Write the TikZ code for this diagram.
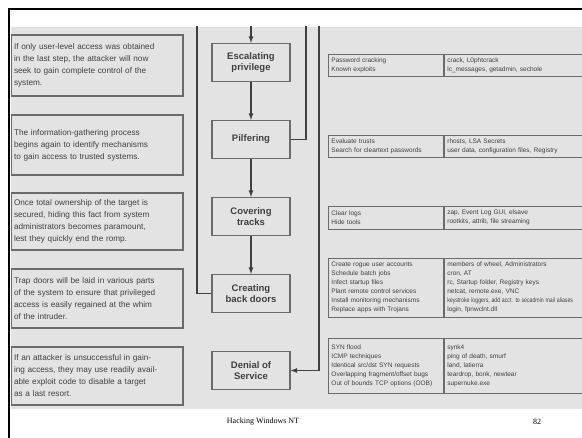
\documentclass[tikz,border=0pt]{standalone}
\usepackage{fontspec}
\setmainfont{Liberation Serif}
\newfontfamily\photofont{Liberation Sans}
\definecolor{photo-gray}{rgb}{0.89, 0.89, 0.89}
\definecolor{ink-gray}{rgb}{0.25, 0.25, 0.25}
\definecolor{frame-gray}{rgb}{0.42, 0.42, 0.42}

\begin{document}
\begin{tikzpicture}[x=1pt, y=-1pt, node distance=77pt, >=latex,
		stagebox/.style={draw=frame-gray, line width=1.2pt, fill=photo-gray, text=ink-gray, font=\photofont\bfseries\fontsize{9.5}{11}\selectfont, align=center, minimum width=78pt, minimum height=38pt},
		notebox/.style={draw=frame-gray, line width=1.2pt, text=ink-gray, font=\photofont\fontsize{8.2}{12}\selectfont, align=left, text width=166pt, inner xsep=3pt, minimum height=58pt},
		cellbox/.style={draw=frame-gray, line width=0.9pt, text=ink-gray, font=\photofont\fontsize{6.5}{9}\selectfont, align=left, anchor=west, inner xsep=3pt, inner ysep=1pt},
		flow/.style={draw=ink-gray, line width=1.2pt}]
		\useasboundingbox (0,0) rectangle (582,438);
		
		% Draw the slide frame
		\draw[line width=2pt] (9,438) -- (9,9) -- (582,9);
		
		\begin{scope}
		\clip (11,27) rectangle (582,409);
		\fill[photo-gray] (11,27) rectangle (582,409);
		
		% Draw the attack stages
		\node (esc) [stagebox] at (251,62.5) {Escalating\\privilege};
		\node (pil) [stagebox, below of=esc] {Pilfering};
		\node (cov) [stagebox, below of=pil] {Covering\\tracks};
		\node (cre) [stagebox, below of=cov] {Creating\\back doors};
		\node (den) [stagebox, below of=cre] {Denial of\\Service};
		
		% Draw the descriptions on the left
		\node (escnote) [notebox, minimum height=61pt, left of=esc, xshift=-77pt, yshift=-3pt] {If only user-level access was obtained\\in the last step, the attacker will now\\seek to gain complete control of the\\system.};
		\node (pilnote) [notebox, minimum height=60pt, left of=pil, xshift=-77pt, yshift=-5.5pt] {The information-gathering process\\begins again to identify mechanisms\\to gain access to trusted systems.};
		\node (covnote) [notebox, minimum height=57pt, left of=cov, xshift=-77pt, yshift=-5pt] {Once total ownership of the target is\\secured, hiding this fact from system\\administrators becomes paramount,\\lest they quickly end the romp.};
		\node (crenote) [notebox, minimum height=59pt, left of=cre, xshift=-77pt, yshift=-5pt] {Trap doors will be laid in various parts\\of the system to ensure that privileged\\access is easily regained at the whim\\of the intruder.};
		\node (dennote) [notebox, left of=den, xshift=-77pt, yshift=-5.5pt] {If an attacker is unsuccessful in gain-\\ing access, they may use readily avail-\\able exploit code to disable a target\\as a last resort.};
		
		% Draw the technique tables on the right
		\node (esctech) [cellbox, text width=109pt, minimum height=22pt] at (328,65) {Password cracking\\Known exploits};
		\node (esctool) [cellbox, text width=200pt, minimum height=22pt] at (esctech.east) {crack, L0phtcrack\\lc\_messages, getadmin, sechole};
		\node (piltech) [cellbox, text width=109pt, minimum height=22pt] at (328,146) {Evaluate trusts\\Search for cleartext passwords};
		\node (piltool) [cellbox, text width=200pt, minimum height=22pt] at (piltech.east) {rhosts, LSA Secrets\\user data, configuration files, Registry};
		\node (covtech) [cellbox, text width=109pt, minimum height=23pt] at (328,217.5) {Clear logs\\Hide tools};
		\node (covtool) [cellbox, text width=200pt, minimum height=23pt] at (covtech.east) {zap, Event Log GUI, elsave\\rootkits, attrib, file streaming};
		\node (cretech) [cellbox, text width=109pt, minimum height=59pt] at (328,287.5) {Create rogue user accounts\\Schedule batch jobs\\Infect startup files\\Plant remote control services\\Install monitoring mechanisms\\Replace apps with Trojans};
		\node (cretool) [cellbox, text width=200pt, minimum height=59pt] at (cretech.east) {members of wheel, Administrators\\cron, AT\\rc, Startup folder, Registry keys\\netcat, remote.exe, VNC\\\scalebox{0.8}[1]{keystroke loggers, add acct. to secadmin mail aliases}\\login, fpnwclnt.dll};
		\node (dentech) [cellbox, text width=109pt, minimum height=55pt] at (328,365.5) {SYN flood\\ICMP techniques\\Identical src/dst SYN requests\\Overlapping fragment/offset bugs\\Out of bounds TCP options (OOB)};
		\node (dentool) [cellbox, text width=200pt, minimum height=55pt] at (dentech.east) {synk4\\ping of death, smurf\\land, latierra\\teardrop, bonk, newtear\\supernuke.exe};
		
		% Connect the stages with arrows
		\coordinate (entry) at (251,20);
		\draw[flow, ->] (entry) -- (esc);
		\draw[flow, ->] (esc) -- (pil);
		\draw[flow, ->] (pil) -- (cov);
		\draw[flow, ->] (cov) -- (cre);
		
		% Draw the loops back to the top
		\coordinate (piltop) at (306,20);
		\draw[flow] (pil.east) -| (piltop);
		\coordinate (cretop) at (197,20);
		\draw[flow] (cre.west) -| (cretop);
		\coordinate (dentop) at (319,20);
		\draw[flow, ->] (dentop) |- (den.east);
		\end{scope}
		
		% Draw the page footer
		\node (title) at (263,422) {\fontsize{8}{10}\selectfont Hacking Windows NT};
		\node (page) at (537,422) {\fontsize{8}{10}\selectfont 82};
		\end{tikzpicture}
\end{document}
